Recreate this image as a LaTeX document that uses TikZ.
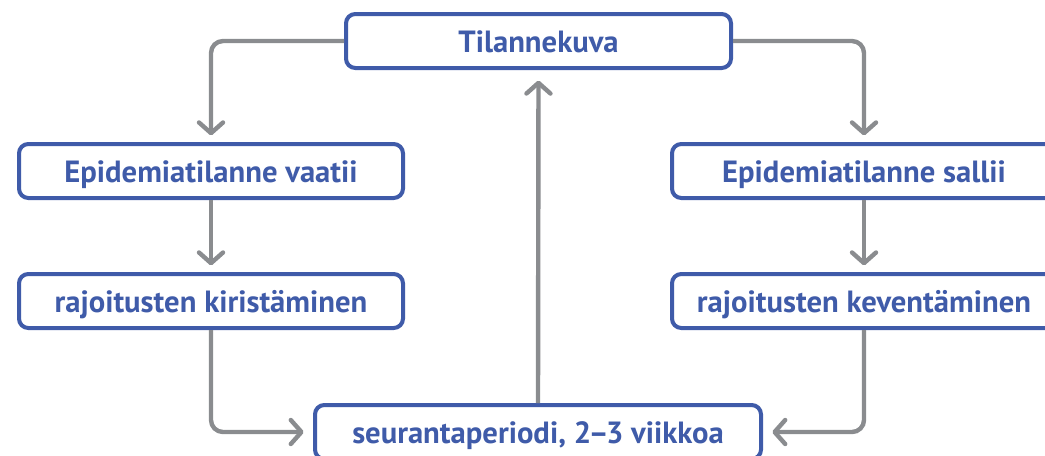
\documentclass[tikz,border=0pt]{standalone}
\usepackage{fontspec}
\setmainfont{PT Sans}
\usetikzlibrary{arrows.meta}
\definecolor{boxblue}{RGB}{63,91,169}
\definecolor{conngray}{RGB}{138,140,143}
\begin{document}
\begin{tikzpicture}[x=0.75pt,y=-0.75pt,
  box/.style={draw=boxblue, line width=3pt, rounded corners=7pt, fill=white,
    text=boxblue, font=\fontsize{23}{26}\selectfont\bfseries,
    inner sep=0pt, text height=17.5pt, text depth=0pt, anchor=north west},
  conn/.style={draw=conngray, line width=3.3pt, rounded corners=9pt,
    -{Straight Barb[length=8pt,width=18pt,line cap=round,line join=round]}}
]
\clip (0,0) rectangle (1045,455);
\node[box, minimum width=385*0.75pt, minimum height=54*0.75pt] (top) at (344,12) {Tilannekuva};
\node[box, minimum width=384*0.75pt, minimum height=54*0.75pt] (e1) at (17,142) {Epidemiatilanne vaatii};
\node[box, minimum width=384*0.75pt, minimum height=54*0.75pt] (e2) at (670,142) {Epidemiatilanne sallii};
\node[box, minimum width=384*0.75pt, minimum height=54*0.75pt] (r1) at (17,272) {rajoitusten kiristäminen};
\node[box, minimum width=446*0.75pt, minimum height=54*0.75pt] (s) at (313,403) {seurantaperiodi, 2\kern-2pt–\kern-2pt3 viikkoa};
\node[box, minimum width=384*0.75pt, minimum height=54*0.75pt] (r2) at (670,272) {rajoitusten keventäminen};
\draw[conn, shorten >=5pt] (top.west) -| (e1.north);
\draw[conn, shorten >=5pt] (top.east) -| (e2.north);
\draw[conn, shorten >=5pt] (e1.south) -- (r1.north);
\draw[conn, shorten >=5pt] (e2.south) -- (r2.north);
\draw[conn, shorten >=7pt] (r1.south) |- (s.west);
\draw[conn, shorten >=7pt] (r2.south) |- (s.east);
\draw[conn, shorten >=8pt] (s.north) -- (top.south);
\end{tikzpicture}
\end{document}
